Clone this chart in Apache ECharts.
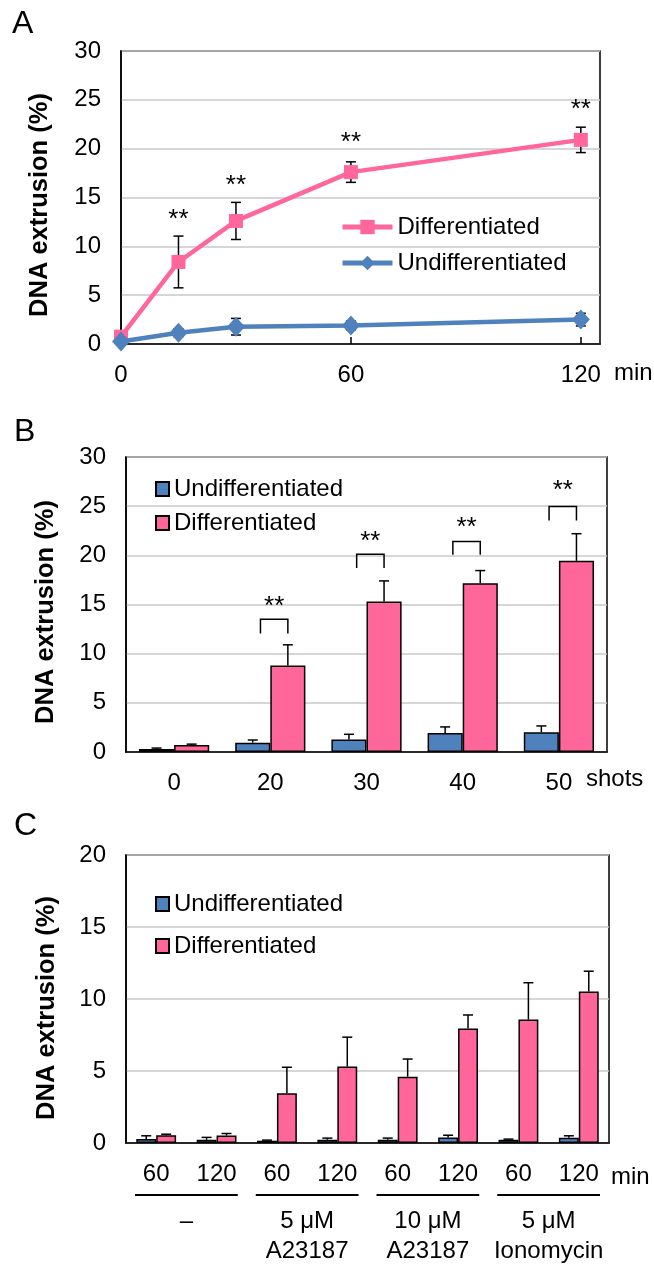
<!DOCTYPE html>
<html><head><meta charset="utf-8">
<script src="https://cdn.jsdelivr.net/npm/echarts@6/dist/echarts.min.js"></script>
<style>html,body{margin:0;padding:0;background:#fff}#c{width:654px;height:1266px}</style>
</head><body><div id="c"></div><script>
// ---------- Panel A ----------
const aTimes = [0, 15, 30, 60, 120];
const aDiff = [0.75, 8.4, 12.6, 17.6, 20.9];
const aDiffErr = [0.3, 2.65, 1.9, 1.05, 1.3];
const aUndiff = [0.25, 1.15, 1.77, 1.9, 2.5];
const aUndiffErr = [0.15, 0.4, 0.85, 0.45, 0.65];
const aStarTimes = [15, 30, 60, 120];
const aStarY = [12.7, 16.2, 20.6, 24.0];
// ---------- Panel B ----------
const bCats = ['0', '20', '30', '40', '50'];
const bUndiff = [0.3, 0.95, 1.26, 1.94, 2.0];
const bUndiffErr = [0.1, 0.27, 0.54, 0.61, 0.65];
const bDiff = [0.71, 8.8, 15.3, 17.16, 19.44];
const bDiffErr = [0.09, 2.1, 2.1, 1.29, 2.76];
const bSigIdx = [1, 2, 3, 4];
const bBracketTop = [13.5, 20.1, 21.4, 24.97];
const bBracketLeg = [12.06, 18.7, 20.05, 23.55];
const bStarY = [14.8, 21.4, 22.8, 26.6];
// ---------- Panel C ----------
const cCats = ['60', '120', '60', '120', '60', '120', '60', '120'];
const cGroups = ['–', '5 μM\nA23187', '10 μM\nA23187', '5 μM\nIonomycin'];
const cUndiff = [0.27, 0.23, 0.16, 0.23, 0.23, 0.39, 0.23, 0.36];
const cUndiffErr = [0.23, 0.16, 0.04, 0.11, 0.11, 0.15, 0.04, 0.14];
const cDiff = [0.54, 0.52, 3.45, 5.31, 4.6, 7.96, 8.57, 10.52];
const cDiffErr = [0.07, 0.14, 1.81, 2.04, 1.23, 0.93, 2.56, 1.41];

const PINK = '#ff6699', BLUE = '#4f81bd';
const FONT = "'Liberation Sans', Arial, sans-serif";
const TICK = 24;
const B_GAP = 0.27, C_GAP = 0.34;
const Y_TITLE = 'DNA extrusion (%)';

const chart = echarts.init(document.getElementById('c'), null, {renderer: 'canvas'});

function yAxis(grid, max) {
  return {
    type: 'value', gridIndex: grid, min: 0, max: max, interval: 5,
    axisLine: {show: true, lineStyle: {color: '#000', width: 1.5}},
    axisTick: {show: false},
    axisLabel: {fontSize: TICK, color: '#000', margin: 20, fontFamily: FONT},
    splitLine: {show: true, lineStyle: {color: '#c8c8c8', width: 1.5}}
  };
}

function lineErr(params, api) {
  const x = api.value(0), v = api.value(1), e = api.value(2);
  const t = api.coord([x, v + e]), b = api.coord([x, v - e]);
  const s = {stroke: '#000', lineWidth: 1.5};
  return {type: 'group', children: [
    {type: 'line', shape: {x1: t[0], y1: t[1], x2: b[0], y2: b[1]}, style: s},
    {type: 'line', shape: {x1: t[0] - 5, y1: t[1], x2: t[0] + 5, y2: t[1]}, style: s},
    {type: 'line', shape: {x1: b[0] - 5, y1: b[1], x2: b[0] + 5, y2: b[1]}, style: s}
  ]};
}

function barErr(sign, gap) {
  return function (params, api) {
    const i = api.value(0), v = api.value(1), e = api.value(2);
    const band = api.size([1, 0])[0];
    const bw = band * (1 - gap) / 2;
    const x = api.coord([i, 0])[0] + sign * bw / 2;
    const top = api.coord([i, v + e])[1];
    const base = api.coord([i, v])[1];
    const s = {stroke: '#000', lineWidth: 1.5};
    return {type: 'group', children: [
      {type: 'line', shape: {x1: x, y1: base, x2: x, y2: top}, style: s},
      {type: 'line', shape: {x1: x - 5, y1: top, x2: x + 5, y2: top}, style: s}
    ]};
  };
}

function starText(params, api) {
  const p = api.coord([api.value(0), api.value(1)]);
  return {type: 'text', x: p[0], y: p[1], style: {text: '**', fontSize: 26, fontFamily: FONT, fill: '#000', align: 'center', verticalAlign: 'middle'}};
}

function bracket(params, api) {
  const i = api.value(0), topV = api.value(1), legV = api.value(2), starV = api.value(3);
  const band = api.size([1, 0])[0];
  const bw = band * (1 - B_GAP) / 2;
  const xr = api.coord([i, 0])[0] + bw / 2;
  const xl = xr - 0.78 * bw;
  const yt = api.coord([i, topV])[1], yl = api.coord([i, legV])[1], ys = api.coord([i, starV])[1];
  return {type: 'group', children: [
    {type: 'polyline', shape: {points: [[xl, yl], [xl, yt], [xr, yt], [xr, yl]]}, style: {stroke: '#000', lineWidth: 1.5, fill: null}},
    {type: 'text', x: (xl + xr) / 2, y: ys, style: {text: '**', fontSize: 26, fontFamily: FONT, fill: '#000', align: 'center', verticalAlign: 'middle'}}
  ]};
}

function groupLine(params, api) {
  const i0 = api.value(0), i1 = api.value(1);
  const band = api.size([1, 0])[0];
  const x0 = api.coord([i0, 0])[0] - band / 2 + 9;
  const x1 = api.coord([i1, 0])[0] + band / 2 - 9;
  const y = api.coord([i0, 0])[1] + 52;
  return {type: 'line', shape: {x1: x0, y1: y, x2: x1, y2: y}, style: {stroke: '#000', lineWidth: 2}};
}

const legendText = {fontSize: 24, color: '#000', fontFamily: FONT};
const strip = n => n.slice(2);
const barStyle = c => ({color: c, borderColor: '#000', borderWidth: 1.5});
const yTitle = (x, y) => ({type: 'text', x: x, y: y, rotation: Math.PI / 2,
  style: {text: Y_TITLE, fontSize: 25.5, fontWeight: 'bold', fill: '#000', fontFamily: FONT, align: 'center', verticalAlign: 'middle'}});
const unitText = (x, y, t) => ({type: 'text', x: x, y: y,
  style: {text: t, fontSize: TICK, fill: '#000', fontFamily: FONT, align: 'left', verticalAlign: 'middle'}});

const option = {
  animation: false,
  backgroundColor: '#fff',
  textStyle: {fontFamily: FONT},
  graphic: [
    {type: 'text', left: 12, top: 8, style: {text: 'A', fontSize: 32, fill: '#000', fontFamily: FONT}},
    {type: 'text', left: 14, top: 416, style: {text: 'B', fontSize: 32, fill: '#000', fontFamily: FONT}},
    {type: 'text', left: 14, top: 810, style: {text: 'C', fontSize: 32, fill: '#000', fontFamily: FONT}},
    yTitle(40, 205), yTitle(46, 612), yTitle(47, 1008),
    unitText(614, 373, 'min'), unitText(586, 779, 'shots'), unitText(611, 1177, 'min')
  ],
  legend: [
    {orient: 'vertical', left: 340, top: 215, padding: 0, itemWidth: 50, itemHeight: 18, itemGap: 12, selectedMode: false,
     lineStyle: {width: 5}, textStyle: legendText, formatter: strip, data: ['A:Differentiated', 'A:Undifferentiated']},
    {orient: 'vertical', left: 155, top: 477, padding: 0, itemWidth: 13, itemHeight: 14, itemGap: 10, selectedMode: false,
     icon: 'rect', textStyle: legendText, formatter: strip, data: ['B:Undifferentiated', 'B:Differentiated']},
    {orient: 'vertical', left: 155, top: 892, padding: 0, itemWidth: 13, itemHeight: 14, itemGap: 18, selectedMode: false,
     icon: 'rect', textStyle: legendText, formatter: strip, data: ['C:Undifferentiated', 'C:Differentiated']}
  ],
  grid: [
    {left: 121, top: 51, width: 479, height: 293, show: true, borderColor: '#000', borderWidth: 1.5},
    {left: 126, top: 457, width: 481, height: 295, show: true, borderColor: '#000', borderWidth: 1.5},
    {left: 126, top: 855, width: 483, height: 294, show: true, borderColor: '#000', borderWidth: 1.5}
  ],
  xAxis: [
    {type: 'value', gridIndex: 0, min: 0, max: 125, interval: 60,
     axisLine: {show: true, lineStyle: {color: '#000', width: 1.5}},
     axisTick: {show: true, inside: true, length: 7, lineStyle: {color: '#000', width: 1.5}},
     axisLabel: {fontSize: TICK, color: '#000', margin: 19, fontFamily: FONT, showMaxLabel: false,
                 formatter: v => (v % 60 === 0 ? String(v) : '')},
     splitLine: {show: false}},
    {type: 'category', gridIndex: 1, data: bCats,
     axisLine: {show: true, lineStyle: {color: '#000', width: 1.5}},
     axisTick: {show: false},
     axisLabel: {fontSize: TICK, color: '#000', margin: 19, fontFamily: FONT, interval: 0}},
    {type: 'category', gridIndex: 2, data: cCats,
     axisLine: {show: true, lineStyle: {color: '#000', width: 1.5}},
     axisTick: {show: false},
     axisLabel: {fontSize: TICK, color: '#000', margin: 19, fontFamily: FONT, interval: 0}},
    {type: 'category', gridIndex: 2, data: cGroups, position: 'bottom', offset: 55,
     axisLine: {show: false}, axisTick: {show: false}, splitLine: {show: false},
     axisLabel: {fontSize: TICK, color: '#000', margin: 8, lineHeight: 30, fontFamily: FONT, interval: 0}}
  ],
  yAxis: [yAxis(0, 30), yAxis(1, 30), yAxis(2, 20)],
  series: [
    // Panel A
    {type: 'custom', name: 'errA1', xAxisIndex: 0, yAxisIndex: 0, z: 1, renderItem: lineErr,
     data: aTimes.map((t, i) => [t, aDiff[i], aDiffErr[i]])},
    {type: 'custom', name: 'errA2', xAxisIndex: 0, yAxisIndex: 0, z: 1, renderItem: lineErr,
     data: aTimes.map((t, i) => [t, aUndiff[i], aUndiffErr[i]])},
    {type: 'line', name: 'A:Differentiated', xAxisIndex: 0, yAxisIndex: 0, z: 3,
     data: aTimes.map((t, i) => [t, aDiff[i]]),
     symbol: 'rect', symbolSize: 14, lineStyle: {color: PINK, width: 4.5}, itemStyle: {color: PINK}},
    {type: 'line', name: 'A:Undifferentiated', xAxisIndex: 0, yAxisIndex: 0, z: 4,
     data: aTimes.map((t, i) => [t, aUndiff[i]]),
     symbol: 'diamond', symbolSize: [18, 20], lineStyle: {color: BLUE, width: 4.5}, itemStyle: {color: BLUE}},
    {type: 'custom', name: 'starsA', xAxisIndex: 0, yAxisIndex: 0, z: 5, renderItem: starText,
     data: aStarTimes.map((t, i) => [t, aStarY[i]])},
    // Panel B
    {type: 'bar', name: 'B:Undifferentiated', xAxisIndex: 1, yAxisIndex: 1, data: bUndiff,
     barGap: '0%', barCategoryGap: (B_GAP * 100) + '%', itemStyle: barStyle(BLUE)},
    {type: 'bar', name: 'B:Differentiated', xAxisIndex: 1, yAxisIndex: 1, data: bDiff,
     barGap: '0%', barCategoryGap: (B_GAP * 100) + '%', itemStyle: barStyle(PINK)},
    {type: 'custom', name: 'errB1', xAxisIndex: 1, yAxisIndex: 1, z: 5, renderItem: barErr(-1, B_GAP),
     data: bUndiff.map((v, i) => [i, v, bUndiffErr[i]])},
    {type: 'custom', name: 'errB2', xAxisIndex: 1, yAxisIndex: 1, z: 5, renderItem: barErr(1, B_GAP),
     data: bDiff.map((v, i) => [i, v, bDiffErr[i]])},
    {type: 'custom', name: 'sigB', xAxisIndex: 1, yAxisIndex: 1, z: 5, renderItem: bracket,
     data: bSigIdx.map((c, k) => [c, bBracketTop[k], bBracketLeg[k], bStarY[k]])},
    // Panel C
    {type: 'bar', name: 'C:Undifferentiated', xAxisIndex: 2, yAxisIndex: 2, data: cUndiff,
     barGap: '0%', barCategoryGap: (C_GAP * 100) + '%', itemStyle: barStyle(BLUE)},
    {type: 'bar', name: 'C:Differentiated', xAxisIndex: 2, yAxisIndex: 2, data: cDiff,
     barGap: '0%', barCategoryGap: (C_GAP * 100) + '%', itemStyle: barStyle(PINK)},
    {type: 'custom', name: 'errC1', xAxisIndex: 2, yAxisIndex: 2, z: 5, renderItem: barErr(-1, C_GAP),
     data: cUndiff.map((v, i) => [i, v, cUndiffErr[i]])},
    {type: 'custom', name: 'errC2', xAxisIndex: 2, yAxisIndex: 2, z: 5, renderItem: barErr(1, C_GAP),
     data: cDiff.map((v, i) => [i, v, cDiffErr[i]])},
    {type: 'custom', name: 'groupsC', xAxisIndex: 2, yAxisIndex: 2, z: 5, clip: false, renderItem: groupLine,
     data: [[0, 1], [2, 3], [4, 5], [6, 7]]}
  ]
};
chart.setOption(option);
</script></body></html>
